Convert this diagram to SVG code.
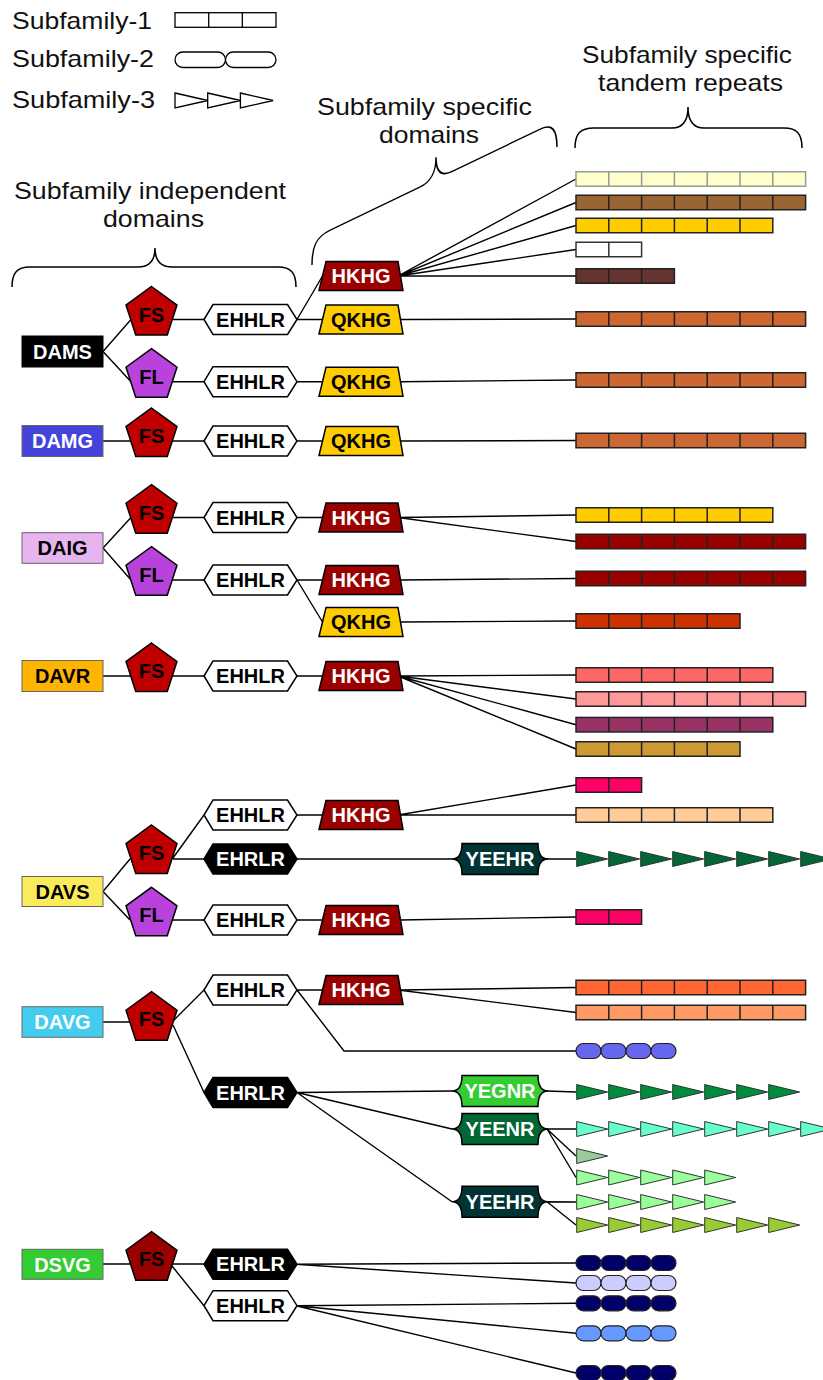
<svg xmlns="http://www.w3.org/2000/svg" xmlns:xlink="http://www.w3.org/1999/xlink" width="823" height="1380" viewBox="0 0 823 1380">
  <style>
    .hdr { font-family: "Liberation Sans", Arial, sans-serif; font-size: 24px; fill: #111; }
    .lbl { font-family: "Liberation Sans", Arial, sans-serif; font-size: 20px; font-weight: bold; text-anchor: middle; }
    .w { fill: #fff; }
    .k { fill: #000; }
    .conn { fill: none; stroke: #000; stroke-width: 1.4; }
    .brace { fill: none; stroke: #000; stroke-width: 1.5; }
    .shp { stroke: #000; stroke-width: 1.5; }
    .box { stroke: #666; stroke-width: 1; }
    .bar { stroke: #222; stroke-width: 1.5; }
    .pill { stroke: #222; stroke-width: 1.2; }
    .tri { stroke: #333; stroke-width: 1; }
    .leg { fill: #fff; stroke: #000; stroke-width: 1.3; }
  </style>
  <defs>
    <polygon id="pent" points="0,-26.8 25.49,-8.28 15.75,21.68 -15.75,21.68 -25.49,-8.28"/>
    <polygon id="hex" points="0,0 9,-15 83.5,-15 93,0 83.5,15 9,15"/>
    <polygon id="trap" points="0,14.5 7,-14.5 79,-14.5 84,14.5"/>
    <path id="ysh" d="M10,-15.5 H86 Q86,0 96,0 Q86,0 86,15.5 H10 Q10,0 0,0 Q10,0 10,-15.5 Z"/>
    <g id="bar7"><rect width="229.6" height="14.5"/><path fill="none" d="M32.8,0v14.5M65.6,0v14.5M98.4,0v14.5M131.2,0v14.5M164,0v14.5M196.8,0v14.5"/></g>
    <g id="bar6"><rect width="196.8" height="14.5"/><path fill="none" d="M32.8,0v14.5M65.6,0v14.5M98.4,0v14.5M131.2,0v14.5M164,0v14.5"/></g>
    <g id="bar5"><rect width="164" height="14.5"/><path fill="none" d="M32.8,0v14.5M65.6,0v14.5M98.4,0v14.5M131.2,0v14.5"/></g>
    <g id="bar3"><rect width="98.4" height="14.5"/><path fill="none" d="M32.8,0v14.5M65.6,0v14.5"/></g>
    <g id="bar2"><rect width="65.6" height="14.5"/><path fill="none" d="M32.8,0v14.5"/></g>
    <g id="pill4"><rect x="0" width="25" height="15" rx="7.5"/><rect x="25" width="25" height="15" rx="7.5"/><rect x="50" width="25" height="15" rx="7.5"/><rect x="75" width="25" height="15" rx="7.5"/></g>
    <path id="tri1" d="M0,-7.5l31,7.5l-31,7.5z"/>
    <path id="tri5" d="M0,-7.5l31,7.5l-31,7.5z m32,0l31,7.5l-31,7.5z m32,0l31,7.5l-31,7.5z m32,0l31,7.5l-31,7.5z m32,0l31,7.5l-31,7.5z"/>
    <path id="tri7" d="M0,-7.5l31,7.5l-31,7.5z m32,0l31,7.5l-31,7.5z m32,0l31,7.5l-31,7.5z m32,0l31,7.5l-31,7.5z m32,0l31,7.5l-31,7.5z m32,0l31,7.5l-31,7.5z m32,0l31,7.5l-31,7.5z"/>
    <path id="tri8" d="M0,-7.5l31,7.5l-31,7.5z m32,0l31,7.5l-31,7.5z m32,0l31,7.5l-31,7.5z m32,0l31,7.5l-31,7.5z m32,0l31,7.5l-31,7.5z m32,0l31,7.5l-31,7.5z m32,0l31,7.5l-31,7.5z m32,0l31,7.5l-31,7.5z"/>
  </defs>

  <rect width="823" height="1380" fill="#fff"/>

  <!-- legend -->
  <g id="legend">
    <text class="hdr" x="12" y="28.5" textLength="140" lengthAdjust="spacingAndGlyphs">Subfamily-1</text>
    <text class="hdr" x="12" y="67" textLength="142" lengthAdjust="spacingAndGlyphs">Subfamily-2</text>
    <text class="hdr" x="12" y="108" textLength="143" lengthAdjust="spacingAndGlyphs">Subfamily-3</text>
    <rect class="leg" x="175" y="12.7" width="101" height="14.6"/>
    <path class="leg" d="M208.7,12.7v14.6M242.3,12.7v14.6"/>
    <rect class="leg" x="175" y="52" width="50.5" height="15.5" rx="7.75"/>
    <rect class="leg" x="225.5" y="52" width="50.5" height="15.5" rx="7.75"/>
    <path class="leg" d="M175,93l32.7,7.5l-32.7,7.5z M207.7,93l32.7,7.5l-32.7,7.5z M240.4,93l32.7,7.5l-32.7,7.5z"/>
  </g>

  <!-- section headings and braces -->
  <g id="headings">
    <text class="hdr" x="14" y="199" textLength="272" lengthAdjust="spacingAndGlyphs">Subfamily independent</text>
    <text class="hdr" x="103" y="227" textLength="101" lengthAdjust="spacingAndGlyphs">domains</text>
    <text class="hdr" x="317" y="115" textLength="215" lengthAdjust="spacingAndGlyphs">Subfamily specific</text>
    <text class="hdr" x="379" y="143" textLength="100" lengthAdjust="spacingAndGlyphs">domains</text>
    <text class="hdr" x="582" y="63" textLength="210" lengthAdjust="spacingAndGlyphs">Subfamily specific</text>
    <text class="hdr" x="598" y="91" textLength="185" lengthAdjust="spacingAndGlyphs">tandem repeats</text>
    <path class="brace" d="M12,287 C12,273 17,267 30,267 L138,267 C149,267 155,261 155,248 C155,261 161,267 172,267 L278,267 C291,267 296,273 296,287"/>
    <path class="brace" transform="matrix(1,-0.4816,0,1,312,265)" d="M0,0 C0,-18 4,-26 18,-26 L108,-26 C118,-26 124,-32 124,-48 C124,-32 130,-26 140,-26 L228,-26 C240,-26 245,-18 245,0"/>
    <path class="brace" d="M575,148 C575,134 580,128 594,128 L672,128 C683,128 688,121 688,107 C688,121 693,128 704,128 L784,128 C797,128 802,134 802,148"/>
  </g>

  <!-- connectors -->
  <g id="connectors" class="conn">
    <!-- DAMS -->
    <path d="M103,351.5 L131,319.5 M103,351.5 L131,381.7 M172,319.5 H204 M172,381.7 H204 M297,319.5 H322 M297,381.7 H322 M297,319.5 L322.5,276 M400,319.5 L576,319 M400,381.7 L576,380"/>
    <path d="M398,276 L576,179 M398,276 L576,202.5 M398,276 L576,225.5 M398,276 L576,249.5 M398,276 L576,276"/>
    <!-- DAMG -->
    <path d="M103,441 H131 M172,441 H204 M297,441 H322 M400,441 L576,440.5"/>
    <!-- DAIG -->
    <path d="M103,548 L131,517.5 M103,548 L131,580 M172,517.5 H204 M172,580 H204 M297,517.5 H322 M297,580 H322 M297,580 L322.5,622 M398,517.5 L576,515 M398,517.5 L576,541.5 M400,580 L576,578.5 M400,622 L576,621"/>
    <!-- DAVR -->
    <path d="M103,676 H131 M172,676 H204 M297,676 H322 M398,676 L576,675 M398,676 L576,699 M398,676 L576,724.7 M398,676 L576,749"/>
    <!-- DAVS -->
    <path d="M103,891.5 L130,859 M103,891.5 L130,920 M173,859 H204 M173,858 L204,815 M172,920 H204 M297,815 H322 M297,920 H322 M398,815 L576,785 M398,815 L576,815 M400,920 L576,917 M297,859 H452 M547,859 H576"/>
    <!-- DAVG -->
    <path d="M103,1022 H130 M173,1021 L204,990 M173,1025 L204,1092.5 M297,990 H322 M398,990 L576,987.5 M398,990 L576,1012.5 M297,990 L344,1051 H576"/>
    <path d="M297,1092.5 L452,1091 M297,1092.5 L452,1129 M297,1092.5 L452,1201.7 M547,1091 L576,1092 M547,1129 L576,1129 M547,1129 L576,1156 M547,1129 L576,1177.5 M547,1201.7 L576,1202 M547,1201.7 L576,1225"/>
    <!-- DSVG -->
    <path d="M103,1264 H130 M172,1264 H204 M172,1266 L204,1305.7 M296,1264.3 L576,1263 M296,1264.3 L576,1283 M296,1305.7 L576,1303.3 M296,1305.7 L576,1333.3 M296,1305.7 L576,1373"/>
  </g>

  <!-- DAMS -->
  <g id="DAMS">
    <rect x="22" y="336" width="81" height="31" fill="#000" stroke="#000"/>
    <text class="lbl w" x="62.5" y="358.5">DAMS</text>
  </g>
  <g id="DAMS-FS"><use href="#pent" x="151.5" y="313.3" class="shp" fill="#C00000"/><text class="lbl k" x="151.5" y="321.5">FS</text></g>
  <g id="DAMS-FL"><use href="#pent" x="151.5" y="375.5" class="shp" fill="#B942DC"/><text class="lbl k" x="151.5" y="383.7">FL</text></g>
  <g id="DAMS-EHHLR-1"><use href="#hex" x="204" y="319.5" class="shp" fill="#fff"/><text class="lbl k" x="250.5" y="326.5">EHHLR</text></g>
  <g id="DAMS-EHHLR-2"><use href="#hex" x="204" y="381.7" class="shp" fill="#fff"/><text class="lbl k" x="250.5" y="388.7">EHHLR</text></g>
  <g id="DAMS-HKHG"><use href="#trap" x="319" y="276" class="shp" fill="#990000"/><text class="lbl w" x="361" y="283">HKHG</text></g>
  <g id="DAMS-QKHG-1"><use href="#trap" x="319" y="319.5" class="shp" fill="#FFCC00"/><text class="lbl k" x="361" y="326.5">QKHG</text></g>
  <g id="DAMS-QKHG-2"><use href="#trap" x="319" y="381.7" class="shp" fill="#FFCC00"/><text class="lbl k" x="361" y="388.7">QKHG</text></g>
  <g id="DAMS-repeats" class="bar">
    <use href="#bar7" x="576" y="171.75" fill="#FFFFCC" stroke="#999"/>
    <use href="#bar7" x="576" y="195.25" fill="#996633"/>
    <use href="#bar6" x="576" y="218.25" fill="#FFCC00"/>
    <use href="#bar2" x="576" y="242.25" fill="#FFFFFF" stroke="#333"/>
    <use href="#bar3" x="576" y="268.75" fill="#663333"/>
    <use href="#bar7" x="576" y="311.75" fill="#CC6633"/>
    <use href="#bar7" x="576" y="372.75" fill="#CC6633"/>
  </g>

  <!-- DAMG -->
  <g id="DAMG">
    <rect class="box" x="22" y="425.5" width="81" height="31" fill="#4444DD"/>
    <text class="lbl w" x="62.5" y="448">DAMG</text>
  </g>
  <g id="DAMG-FS"><use href="#pent" x="151.5" y="434.8" class="shp" fill="#C00000"/><text class="lbl k" x="151.5" y="443">FS</text></g>
  <g id="DAMG-EHHLR"><use href="#hex" x="204" y="441" class="shp" fill="#fff"/><text class="lbl k" x="250.5" y="448">EHHLR</text></g>
  <g id="DAMG-QKHG"><use href="#trap" x="319" y="441" class="shp" fill="#FFCC00"/><text class="lbl k" x="361" y="448">QKHG</text></g>
  <g id="DAMG-repeats" class="bar">
    <use href="#bar7" x="576" y="433.25" fill="#CC6633"/>
  </g>

  <!-- DAIG -->
  <g id="DAIG">
    <rect class="box" x="22" y="532.7" width="81" height="30.6" fill="#E6B5F0" stroke="#9E7BA6"/>
    <text class="lbl k" x="62.5" y="555">DAIG</text>
  </g>
  <g id="DAIG-FS"><use href="#pent" x="151.5" y="511.5" class="shp" fill="#C00000"/><text class="lbl k" x="151.5" y="519.7">FS</text></g>
  <g id="DAIG-FL"><use href="#pent" x="151.5" y="573.5" class="shp" fill="#B942DC"/><text class="lbl k" x="151.5" y="581.7">FL</text></g>
  <g id="DAIG-EHHLR-1"><use href="#hex" x="204" y="517.5" class="shp" fill="#fff"/><text class="lbl k" x="250.5" y="524.5">EHHLR</text></g>
  <g id="DAIG-EHHLR-2"><use href="#hex" x="204" y="580" class="shp" fill="#fff"/><text class="lbl k" x="250.5" y="587">EHHLR</text></g>
  <g id="DAIG-HKHG-1"><use href="#trap" x="319" y="517.5" class="shp" fill="#990000"/><text class="lbl w" x="361" y="524.5">HKHG</text></g>
  <g id="DAIG-HKHG-2"><use href="#trap" x="319" y="580" class="shp" fill="#990000"/><text class="lbl w" x="361" y="587">HKHG</text></g>
  <g id="DAIG-QKHG"><use href="#trap" x="319" y="622" class="shp" fill="#FFCC00"/><text class="lbl k" x="361" y="629">QKHG</text></g>
  <g id="DAIG-repeats" class="bar">
    <use href="#bar6" x="576" y="507.75" fill="#FFCC00"/>
    <use href="#bar7" x="576" y="534.25" fill="#990000"/>
    <use href="#bar7" x="576" y="571.25" fill="#990000"/>
    <use href="#bar5" x="576" y="613.75" fill="#CC3300"/>
  </g>

  <!-- DAVR -->
  <g id="DAVR">
    <rect class="box" x="22" y="660.5" width="81" height="31" fill="#FFB400"/>
    <text class="lbl k" x="62.5" y="683">DAVR</text>
  </g>
  <g id="DAVR-FS"><use href="#pent" x="151.5" y="669.8" class="shp" fill="#C00000"/><text class="lbl k" x="151.5" y="678">FS</text></g>
  <g id="DAVR-EHHLR"><use href="#hex" x="204" y="676" class="shp" fill="#fff"/><text class="lbl k" x="250.5" y="683">EHHLR</text></g>
  <g id="DAVR-HKHG"><use href="#trap" x="319" y="676" class="shp" fill="#990000"/><text class="lbl w" x="361" y="683">HKHG</text></g>
  <g id="DAVR-repeats" class="bar">
    <use href="#bar6" x="576" y="667.75" fill="#FF6666"/>
    <use href="#bar7" x="576" y="691.75" fill="#FF9999"/>
    <use href="#bar6" x="576" y="717.45" fill="#993366"/>
    <use href="#bar5" x="576" y="741.75" fill="#CC9933"/>
  </g>

  <!-- DAVS -->
  <g id="DAVS">
    <rect class="box" x="22" y="876.5" width="81" height="30" fill="#FAEB5A"/>
    <text class="lbl k" x="62.5" y="898.5">DAVS</text>
  </g>
  <g id="DAVS-FS"><use href="#pent" x="151.5" y="851.8" class="shp" fill="#C00000"/><text class="lbl k" x="151.5" y="860">FS</text></g>
  <g id="DAVS-FL"><use href="#pent" x="151.5" y="914.1" class="shp" fill="#B942DC"/><text class="lbl k" x="151.5" y="922.3">FL</text></g>
  <g id="DAVS-EHHLR-1"><use href="#hex" x="204" y="815" class="shp" fill="#fff"/><text class="lbl k" x="250.5" y="822">EHHLR</text></g>
  <g id="DAVS-EHRLR"><use href="#hex" x="204" y="859" class="shp" fill="#000"/><text class="lbl w" x="250.5" y="866">EHRLR</text></g>
  <g id="DAVS-EHHLR-2"><use href="#hex" x="204" y="920" class="shp" fill="#fff"/><text class="lbl k" x="250.5" y="927">EHHLR</text></g>
  <g id="DAVS-HKHG-1"><use href="#trap" x="319" y="815" class="shp" fill="#990000"/><text class="lbl w" x="361" y="822">HKHG</text></g>
  <g id="DAVS-HKHG-2"><use href="#trap" x="319" y="920" class="shp" fill="#990000"/><text class="lbl w" x="361" y="927">HKHG</text></g>
  <g id="DAVS-YEEHR"><use href="#ysh" x="452" y="859" class="shp" fill="#003333"/><text class="lbl w" x="500" y="866">YEEHR</text></g>
  <g id="DAVS-repeats" class="bar">
    <use href="#bar2" x="576" y="777.75" fill="#FF0066"/>
    <use href="#bar6" x="576" y="807.75" fill="#FFCC99"/>
    <use href="#bar2" x="576" y="909.75" fill="#FF0066"/>
    <use href="#tri8" x="576.7" y="859" class="tri" fill="#006633"/>
  </g>

  <!-- DAVG -->
  <g id="DAVG">
    <rect class="box" x="22" y="1006.7" width="81" height="30.6" fill="#44CCEE"/>
    <text class="lbl w" x="62.5" y="1029">DAVG</text>
  </g>
  <g id="DAVG-FS"><use href="#pent" x="151.5" y="1018.5" class="shp" fill="#C00000"/><text class="lbl k" x="151.5" y="1026.2">FS</text></g>
  <g id="DAVG-EHHLR"><use href="#hex" x="204" y="990" class="shp" fill="#fff"/><text class="lbl k" x="250.5" y="997">EHHLR</text></g>
  <g id="DAVG-EHRLR"><use href="#hex" x="204" y="1092.5" class="shp" fill="#000"/><text class="lbl w" x="250.5" y="1099.5">EHRLR</text></g>
  <g id="DAVG-HKHG"><use href="#trap" x="319" y="990" class="shp" fill="#990000"/><text class="lbl w" x="361" y="997">HKHG</text></g>
  <g id="DAVG-YEGNR"><use href="#ysh" x="452" y="1091" class="shp" fill="#33CC33"/><text class="lbl w" x="500" y="1098">YEGNR</text></g>
  <g id="DAVG-YEENR"><use href="#ysh" x="452" y="1129" class="shp" fill="#006633"/><text class="lbl w" x="500" y="1136">YEENR</text></g>
  <g id="DAVG-YEEHR"><use href="#ysh" x="452" y="1201.7" class="shp" fill="#003333"/><text class="lbl w" x="500" y="1208.7">YEEHR</text></g>
  <g id="DAVG-repeats" class="bar">
    <use href="#bar7" x="576" y="980.25" fill="#FF6633"/>
    <use href="#bar7" x="576" y="1005.25" fill="#FF9966"/>
    <use href="#pill4" x="576" y="1043.5" class="pill" fill="#6666EE"/>
    <use href="#tri7" x="576.7" y="1092" class="tri" fill="#008C3C"/>
    <use href="#tri8" x="576.7" y="1129" class="tri" fill="#66FFCC"/>
    <use href="#tri1" x="576.7" y="1156" class="tri" fill="#99CC99"/>
    <use href="#tri5" x="576.7" y="1177.5" class="tri" fill="#99FF99"/>
    <use href="#tri5" x="576.7" y="1202" class="tri" fill="#99FF99"/>
    <use href="#tri7" x="576.7" y="1225" class="tri" fill="#99CC33"/>
  </g>

  <!-- DSVG -->
  <g id="DSVG">
    <rect class="box" x="22" y="1249.3" width="81" height="30" fill="#33CC33"/>
    <text class="lbl w" x="62.5" y="1271.5">DSVG</text>
  </g>
  <g id="DSVG-FS"><use href="#pent" x="151.5" y="1258.5" class="shp" fill="#990000"/><text class="lbl k" x="151.5" y="1265.5">FS</text></g>
  <g id="DSVG-EHRLR"><use href="#hex" x="204" y="1264.3" class="shp" fill="#000"/><text class="lbl w" x="250.5" y="1271.3">EHRLR</text></g>
  <g id="DSVG-EHHLR"><use href="#hex" x="204" y="1305.7" class="shp" fill="#fff"/><text class="lbl k" x="250.5" y="1312.7">EHHLR</text></g>
  <g id="DSVG-repeats" class="pill">
    <use href="#pill4" x="576" y="1255.5" fill="#000066"/>
    <use href="#pill4" x="576" y="1275.5" fill="#CCCCFF"/>
    <use href="#pill4" x="576" y="1295.8" fill="#000066"/>
    <use href="#pill4" x="576" y="1325.8" fill="#6699FF"/>
    <use href="#pill4" x="576" y="1365.5" fill="#000066"/>
  </g>
</svg>
